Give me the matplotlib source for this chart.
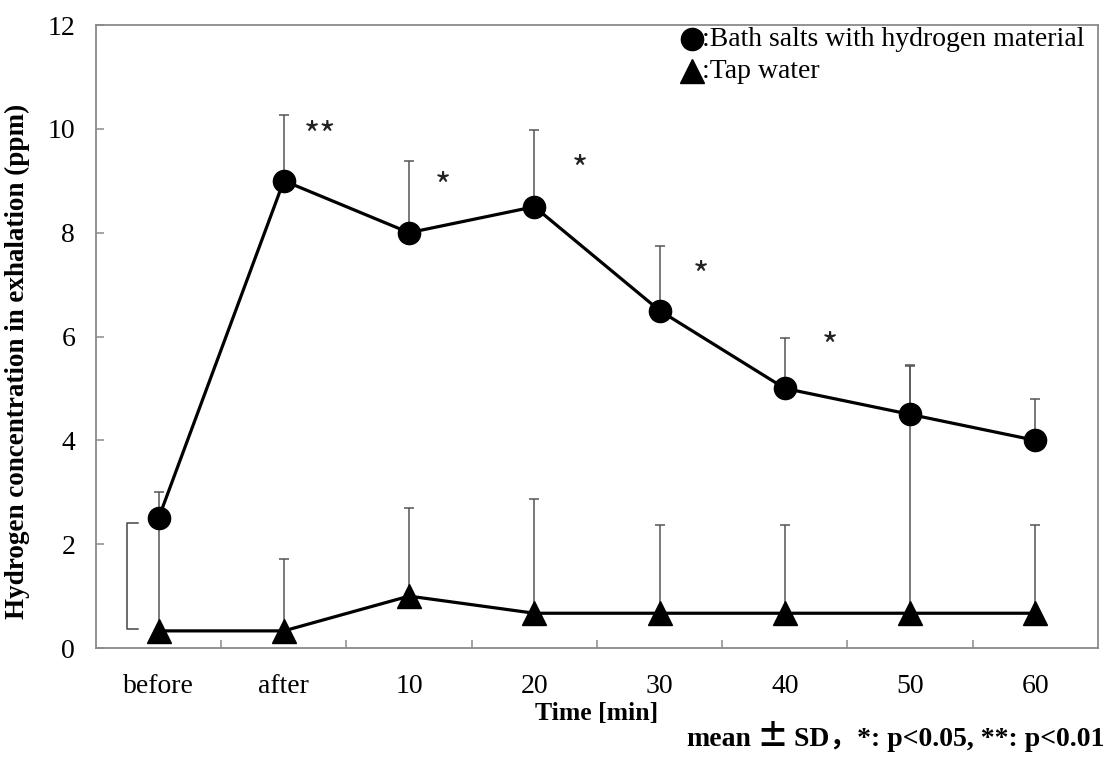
import matplotlib
matplotlib.use("Agg")
import matplotlib.pyplot as plt
from matplotlib.offsetbox import TextArea, HPacker, AnchoredOffsetbox
import numpy as np

# Measurement time points
categories = ["before", "after", "10", "20", "30", "40", "50", "60"]

# Hydrogen concentration in exhalation (ppm), mean and upper SD
bath_mean = [2.5, 9.0, 8.0, 8.5, 6.5, 5.0, 4.5, 4.0]
bath_sd = [0.5, 1.27, 1.38, 1.48, 1.25, 0.97, 0.93, 0.8]
tap_mean = [0.33, 0.33, 1.0, 0.67, 0.67, 0.67, 0.67, 0.67]
tap_sd = [2.1, 1.38, 1.7, 2.2, 1.7, 1.7, 4.78, 1.7]

# Significance marks between groups
sig_labels = ["**", "*", "*", "*", "*"]
sig_pos = [1.79, 2.77, 3.86, 4.83, 5.86]
sig_y = [9.94, 8.96, 9.29, 7.24, 5.88]

# Bracket next to the "before" values
bracket_lo, bracket_hi = 0.37, 2.41

serif = ["Liberation Serif", "DejaVu Serif"]
plt.rcParams["font.family"] = serif

fig = plt.figure(figsize=(11.12, 7.58), dpi=100)
ax = fig.add_axes([0.0863, 0.1451, 0.9011, 0.8219])

x = np.arange(len(categories)) + 0.5
frame_col = "#8a8a8a"
err_col = "#555555"

zero = np.zeros(len(categories))
ax.errorbar(x, bath_mean, yerr=[zero, bath_sd], fmt="none", ecolor=err_col,
            elinewidth=1.1, capsize=3.5, capthick=1.1, zorder=1)
ax.errorbar(x, tap_mean, yerr=[zero, tap_sd], fmt="none", ecolor=err_col,
            elinewidth=1.1, capsize=3.5, capthick=1.1, zorder=1)

ax.plot(x, bath_mean, color="black", lw=2.3, marker="o", markersize=16,
        markerfacecolor="black", markeredgecolor="black", zorder=3)
ax.plot(x, tap_mean, color="black", lw=2.3, marker="^", markersize=17,
        markerfacecolor="black", markeredgecolor="black", zorder=3)

# significance asterisks
for lab, px, py in zip(sig_labels, sig_pos, sig_y):
    ax.annotate(lab, (px, py), xytext=(0, -4), textcoords="offset points",
                ha="center", va="center", fontsize=25,
                family=["Noto Sans CJK JP", "DejaVu Sans"], color="#222222")

# bracket
bx0, bx1 = 0.25, 0.335
ax.plot([bx1, bx0, bx0, bx1], [bracket_hi, bracket_hi, bracket_lo, bracket_lo],
        color="#444444", lw=1.1, zorder=2)

ax.set_xlim(0, len(categories))
ax.set_ylim(0, 12)
ax.set_yticks(np.arange(0, 13, 2))
ax.set_xticks(x)
ax.set_xticklabels(categories)
ax.set_xticks(np.arange(1, len(categories)), minor=True)
ax.tick_params(axis="x", which="major", length=0, pad=19, labelsize=20)
ax.tick_params(axis="x", which="minor", direction="in", length=6, width=1.1,
               color=frame_col)
ax.tick_params(axis="y", direction="in", length=6, width=1.1, color=frame_col,
               pad=15, labelsize=20)
for s in ax.spines.values():
    s.set_color(frame_col)
    s.set_linewidth(1.3)

ax.set_ylabel("Hydrogen concentration in exhalation (ppm)", fontsize=19.5,
              fontweight="bold")
ax.yaxis.set_label_coords(-0.066, 0.46)
ax.set_xlabel("Time [min]", fontsize=18.5, fontweight="bold", labelpad=2)

# legend
ax.plot([0.595], [0.9775], transform=ax.transAxes, marker="o", markersize=16,
        color="black", clip_on=False)
ax.plot([0.595], [0.926], transform=ax.transAxes, marker="^", markersize=17,
        color="black", clip_on=False)
ax.text(0.605, 0.9775, ":Bath salts with hydrogen material", transform=ax.transAxes,
        fontsize=20, va="center", ha="left")
ax.text(0.605, 0.926, ":Tap water", transform=ax.transAxes,
        fontsize=20, va="center", ha="left")

# footnote
bold_serif = dict(fontsize=20, fontweight="bold",
                  family=["Liberation Serif", "Noto Sans CJK JP"])
pm = dict(fontsize=23, fontweight="bold", family=["Noto Sans CJK JP"])
note = HPacker(children=[TextArea("mean", textprops=bold_serif),
                         TextArea("\u00b1", textprops=pm),
                         TextArea("SD\uff0c*: p<0.05, **: p<0.01",
                                  textprops=bold_serif)],
               sep=4, align="baseline")
anchored = AnchoredOffsetbox(loc="center right", child=note, frameon=False,
                             bbox_to_anchor=(0.993, 0.028),
                             bbox_transform=fig.transFigure, pad=0, borderpad=0)
fig.add_artist(anchored)

fig.savefig("out.png", dpi=100)
